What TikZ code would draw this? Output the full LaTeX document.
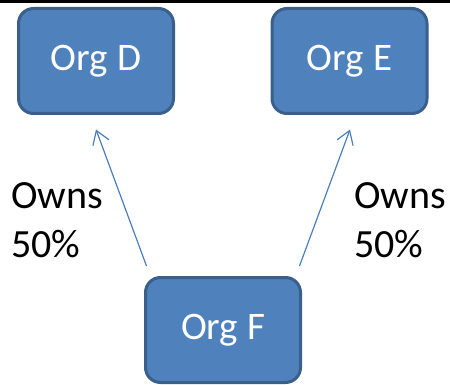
\documentclass[tikz,border=0pt]{standalone}
\usepackage{fontspec}
\setmainfont{Carlito}
\usetikzlibrary{arrows.meta}
\definecolor{boxfill}{HTML}{4F81BD}
\definecolor{boxline}{HTML}{3A5F8B}
\definecolor{arrcol}{HTML}{4A7EBB}
\begin{document}
\begin{tikzpicture}[x=1pt,y=-1pt,
  orgbox/.style={draw=boxline,fill=boxfill,line width=3pt,rounded corners=15pt,
    minimum width=155pt,minimum height=105pt,inner sep=0pt,text=white,
    font=\fontsize{39}{46}\selectfont},
  owns/.style={align=left,inner sep=0pt,anchor=base west,
    font=\fontsize{40}{49}\selectfont},
  arr/.style={draw=arrcol,line width=1.2pt,-{Straight Barb[length=13pt,width=17pt]}}]
\useasboundingbox (0,0) rectangle (450,385);
\draw[line width=3pt] (0,1.5) -- (450,1.5);
\node[orgbox] (D) at (96,61) {Org D};
\node[orgbox] (E) at (349.5,61) {Org E};
\node[orgbox] (F) at (223,330) {Org F};
\path (F.north west) ++(2.5,-10) coordinate (tD);
\path (F.north east) ++(-2.5,-10) coordinate (tE);
\path (D.south) ++(0,14.5) coordinate (hD);
\path (E.south) ++(0.5,14.5) coordinate (hE);
\draw[arr] (tD) -- (hD);
\draw[arr] (tE) -- (hE);
\node[owns] (L1) at (11,257) {Owns\\50\%};
\node[owns] (L2) at (354,257) {Owns\\50\%};
\end{tikzpicture}
\end{document}
